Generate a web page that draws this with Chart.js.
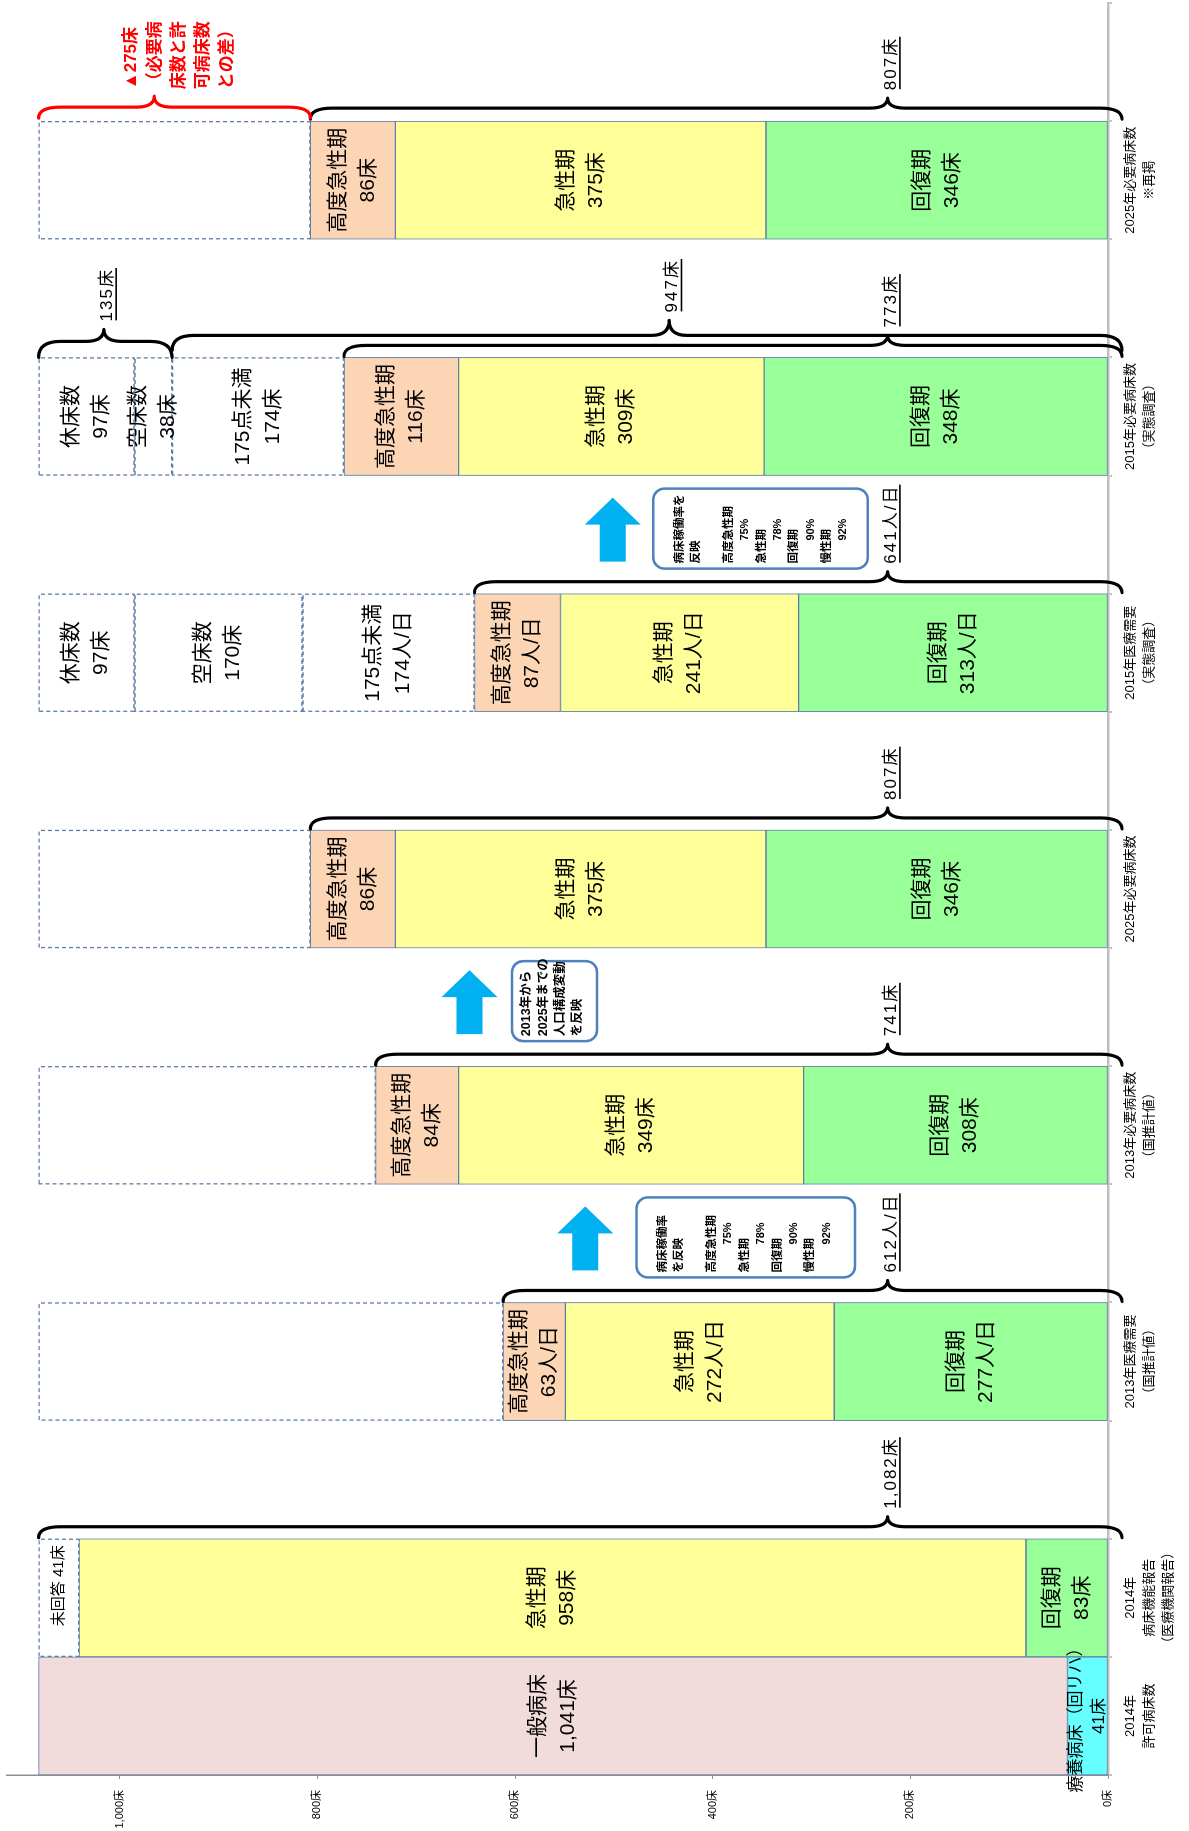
<!DOCTYPE html>
<html><head><meta charset="utf-8">
<script src="https://cdn.jsdelivr.net/npm/chart.js@4/dist/chart.umd.min.js"></script>
<style>
html,body{margin:0;padding:0;background:#fff;}
#wrap{position:relative;width:1189px;height:1831px;overflow:hidden;background:#fff;}
#c{position:absolute;left:0;top:0;transform-origin:0 0;transform:translate(0,1831px) rotate(-90deg);}
</style></head><body>
<div id="wrap"><canvas id="c" width="1831" height="1189"></canvas></div>
<script>
// ---------------- data ----------------
const categories = [
  ['2014年','許可病床数'],
  ['2014年','病床機能報告','（医療機関報告）'],
  '',
  ['2013年医療需要','（国推計値）'],
  '',
  ['2013年必要病床数','（国推計値）'],
  '',
  ['2025年必要病床数'],
  '',
  ['2015年医療需要','（実態調査）'],
  '',
  ['2015年必要病床数','（実態調査）'],
  '',
  ['2025年必要病床数','※再掲'],
  ''
];
const units = ['床','床',null,'人/日',null,'床',null,'床',null,'人/日',null,'床',null,'床',null];

const ryoyo    = [41,  null,null,null,null,null,null,null,null,null,null,null,null,null,null];
const kaifuku  = [null,83,  null,277, null,308, null,346, null,313, null,348, null,346, null];
const kyusei   = [null,958, null,272, null,349, null,375, null,241, null,309, null,375, null];
const kodo     = [null,null,null,63,  null,84,  null,86,  null,87,  null,116, null,86,  null];
const ippan    = [1041,null,null,null,null,null,null,null,null,null,null,null,null,null,null];
const under175 = [null,null,null,null,null,null,null,null,null,174, null,174, null,null,null];
const kusho    = [null,null,null,null,null,null,null,null,null,170, null,38,  null,null,null];
const kyusho   = [null,null,null,null,null,null,null,null,null,97,  null,97,  null,null,null];
const mikaito  = [null,41,  null,null,null,null,null,null,null,null,null,null,null,null,null];
const sa       = [null,null,null,470, null,341, null,275, null,null,null,null,null,275, null];

const valueTicks = [0,200,400,600,800,1000];

// braces: category index, value range, tip value, label
const braces = [
  {cat:1,  from:0,   to:1082, tip:223,  label:'1,082床'},
  {cat:3,  from:0,   to:612,  tip:223,  label:'612人/日'},
  {cat:5,  from:0,   to:741,  tip:223,  label:'741床'},
  {cat:7,  from:0,   to:807,  tip:223,  label:'807床'},
  {cat:9,  from:0,   to:641,  tip:223,  label:'641人/日'},
  {cat:11, from:0,   to:773,  tip:223,  label:'773床'},
  {cat:11, from:0,   to:947,  tip:444,  label:'947床', off:7, h1:15, h2:15},
  {cat:11, from:947, to:1082, tip:1016, label:'135床', off:0, h1:16, h2:12},
  {cat:13, from:0,   to:807,  tip:223,  label:'807床', off:2},
  {cat:13, from:807, to:1082, tip:965,  red:true, off:3, h1:11, h2:11}
];
const redLines = ['▲275床','（必要病','床数と許','可病床数','との差）'];

const arrows = [{cat:4, value:529},{cat:6, value:646},{cat:10, value:501}];
const boxes = [
  {cat:4, from:256, to:477, pctOff:25, lines:['病床稼働率','を反映','','高度急性期','75%','急性期','78%','回復期','90%','慢性期','92%']},
  {cat:6, from:517, to:603, pctOff:0, lines:['2013年から','2025年までの','人口構成変動','を反映']},
  {cat:10, from:243, to:460, pctOff:30, lines:['病床稼働率を','反映','','高度急性期','75%','急性期','78%','回復期','90%','慢性期','92%']}
];

// ---------------- drawing ----------------
const W = 1831, H = 1189;
const FONT = '"Liberation Sans","Noto Sans CJK JP",sans-serif';
const BORDER = '#5F7FA8';
function fmt(v){ return v.toLocaleString('en-US'); }

function imgPath(ctx, fn){ ctx.save(); ctx.transform(0,1,-1,0,W,0); fn(); ctx.restore(); }
function txt(ctx, s, xi, yi, font, color, align, baseline, spacing){
  ctx.save(); ctx.translate(W - yi, xi);
  ctx.font = font; ctx.fillStyle = color; ctx.textAlign = align; ctx.textBaseline = baseline;
  ctx.letterSpacing = spacing || '0px';
  ctx.fillText(s, 0, 0);
  const w = ctx.measureText(s).width;
  ctx.restore();
  return w;
}
function drawBrace(ctx, x1, x2, xm, yb, h1, h2, color){
  const r = 22, rt = 18, ym = yb - h1, yt = ym - h2;
  imgPath(ctx, () => {
    ctx.beginPath();
    ctx.moveTo(x1, yb);
    ctx.quadraticCurveTo(x1, ym, x1 + r, ym);
    ctx.lineTo(xm - rt, ym);
    ctx.quadraticCurveTo(xm, ym, xm, yt);
    ctx.quadraticCurveTo(xm, ym, xm + rt, ym);
    ctx.lineTo(x2 - r, ym);
    ctx.quadraticCurveTo(x2, ym, x2, yb);
    ctx.strokeStyle = color; ctx.lineWidth = 3.2; ctx.lineJoin = 'round'; ctx.lineCap = 'round';
    ctx.stroke();
  });
}

const annot = {
  id: 'annot',
  afterDatasetsDraw(chart){
    const ctx = chart.ctx;
    const xs = chart.scales.x, ys = chart.scales.y;
    const vx = v => ys.getPixelForValue(v);
    const cy = i => W - xs.getPixelForValue(i);
    const half = (xs.getPixelForValue(1) - xs.getPixelForValue(0)) / 2;

    // dashed boxes + segment labels
    chart.data.datasets.forEach((ds, di) => {
      const meta = chart.getDatasetMeta(di);
      meta.data.forEach((el, i) => {
        const v = ds.data[i]; if (v == null) return;
        const t = Math.min(el.y, el.base), b = Math.max(el.y, el.base);
        if (ds.dashed) {
          ctx.save(); ctx.setLineDash([4,3]); ctx.strokeStyle = BORDER; ctx.lineWidth = 1.3;
          ctx.strokeRect(el.x - el.width/2 + 0.5, t + 0.5, el.width - 1, b - t - 1);
          ctx.restore();
        }
        if (!ds.labelName) return;
        const unit = ds.unitMode === 'cat' ? units[i] : '床';
        const lines = ds.single ? [ds.labelName + ' ' + fmt(v) + unit] : [ds.labelName, fmt(v) + unit];
        const fs = ds.fs || 21, gap = ds.gap || 30;
        ctx.save();
        ctx.font = fs + 'px ' + FONT; ctx.fillStyle = '#000'; ctx.textAlign = 'center'; ctx.textBaseline = 'middle';
        const cyo = (t + b) / 2;
        const cxo = el.x + (ds.shift || 0);
        lines.forEach((s, k) => ctx.fillText(s, cxo, cyo + (k - (lines.length - 1)/2) * gap));
        ctx.restore();
      });
    });

    // braces
    braces.forEach(br => {
      const top = cy(br.cat) - half;
      const off = br.off != null ? br.off : 1, h1 = br.h1 || 11, h2 = br.h2 || 10;
      const yb = top - off;
      const x1 = vx(br.to), x2 = vx(br.from) + (br.from === 0 ? 14 : 0), xm = vx(br.tip);
      drawBrace(ctx, x1, x2, xm, yb, h1, h2, br.red ? '#FF0000' : '#000');
      const yt = yb - h1 - h2;
      if (br.red) {
        redLines.forEach((s, k) => txt(ctx, s, xm - 23 + 24*k, yt - 7, 'bold 17px ' + FONT, '#FF0000', 'left', 'middle'));
      } else {
        const base = xm + 8, start = yt - 8;
        const w = txt(ctx, br.label, base, start, '17px ' + FONT, '#000', 'left', 'alphabetic', '2px');
        imgPath(ctx, () => { ctx.fillStyle = '#000'; ctx.fillRect(base + 3.5, start - w, 1.6, w - 1); });
      }
    });

    // arrows
    arrows.forEach(a => {
      const cx = vx(a.value), c = cy(a.cat) - 5;
      const L = 64, hl = 27, hw = 28, sw = 13, top = c - L/2, bot = c + L/2;
      imgPath(ctx, () => {
        ctx.beginPath(); ctx.moveTo(cx, top); ctx.lineTo(cx + hw, top + hl); ctx.lineTo(cx + sw, top + hl);
        ctx.lineTo(cx + sw, bot); ctx.lineTo(cx - sw, bot); ctx.lineTo(cx - sw, top + hl); ctx.lineTo(cx - hw, top + hl);
        ctx.closePath(); ctx.fillStyle = '#00B0F0'; ctx.fill();
      });
    });

    // text boxes
    boxes.forEach(bx => {
      const x1 = vx(bx.to), x2 = vx(bx.from), c = cy(bx.cat) - 6, y1 = c - 40, y2 = c + 40;
      imgPath(ctx, () => {
        ctx.beginPath(); ctx.roundRect(x1, y1, x2 - x1, y2 - y1, 11);
        ctx.fillStyle = '#fff'; ctx.fill(); ctx.strokeStyle = '#4F81BD'; ctx.lineWidth = 2.5; ctx.stroke();
      });
      const small = bx.lines.length > 5;
      const step = small ? 16.4 : 17, first = x1 + (small ? 26 : 15);
      bx.lines.forEach((s, k) => {
        if (!s) return;
        const xi = first + k * step;
        if (/%$/.test(s)) txt(ctx, s, xi, y1 + bx.pctOff, 'bold 11px ' + FONT, '#000', 'right', 'middle');
        else txt(ctx, s, xi, y2 - 5, (small ? 'bold 11.5px ' : 'bold 12.5px ') + FONT, '#000', 'left', 'middle');
      });
    });
  }
};

const solid = (label, data, color, name, extra) => Object.assign({
  label, data, backgroundColor: color, borderColor: BORDER, borderWidth: 1, borderSkipped: false,
  labelName: name, unitMode: 'cat'
}, extra || {});
const dashed = (label, data, name, extra) => Object.assign({
  label, data, backgroundColor: 'rgba(255,255,255,0)', borderWidth: 0, dashed: true,
  labelName: name, unitMode: '床'
}, extra || {});

new Chart(document.getElementById('c'), {
  type: 'bar',
  data: {
    labels: categories,
    datasets: [
      solid('療養病床', ryoyo, '#66FFFF', '療養病床（回リハ）', {fs:17, gap:23, unitMode:'床'}),
      solid('回復期', kaifuku, '#99FF99', '回復期'),
      solid('急性期', kyusei, '#FFFF99', '急性期'),
      solid('高度急性期', kodo, '#FCD5B5', '高度急性期'),
      solid('一般病床', ippan, '#F2DCDB', '一般病床', {unitMode:'床'}),
      dashed('175点未満', under175, '175点未満', {unitMode:'cat'}),
      dashed('空床数', kusho, '空床数'),
      dashed('休床数', kyusho, '休床数'),
      dashed('未回答', mikaito, '未回答', {single:true, fs:15, shift:12}),
      dashed('差', sa, null)
    ]
  },
  options: {
    responsive: false, animation: false, devicePixelRatio: 1,
    layout: {padding: {left: 0, right: 3, top: 7, bottom: 0}},
    plugins: {legend: {display: false}, tooltip: {enabled: false}},
    datasets: {bar: {barPercentage: 1, categoryPercentage: 1}},
    scales: {
      x: {
        stacked: true, offset: true,
        grid: {offset: true, drawOnChartArea: false, drawTicks: true, tickLength: 4, color: '#BFBFBF', lineWidth: 2},
        border: {color: '#BFBFBF', width: 2.5},
        ticks: {autoSkip: false, maxRotation: 0, minRotation: 0, padding: 9, color: '#000',
                font: {family: FONT, size: 13, lineHeight: 1.45}},
        afterFit(s){ s.height = 81; s.paddingLeft = 0; s.paddingRight = 0; }
      },
      y: {
        stacked: true, min: 0, max: 1114,
        grid: {drawOnChartArea: false, tickLength: 4, color: '#8E8E8E'},
        border: {color: '#8E8E8E', width: 1.5},
        afterBuildTicks(s){ s.ticks = valueTicks.map(v => ({value: v})); },
        ticks: {padding: 11, color: '#000', font: {family: FONT, size: 11}, callback: v => fmt(v) + '床'},
        afterFit(s){ s.width = 56; s.paddingTop = 0; s.paddingBottom = 0; }
      }
    }
  },
  plugins: [annot]
});
</script>
</body></html>
